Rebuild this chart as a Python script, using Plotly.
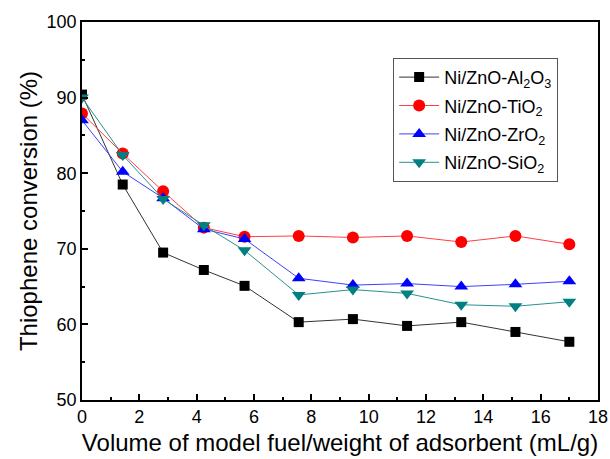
import plotly.graph_objects as go

x_vals = [0, 1.42, 2.83, 4.25, 5.67, 7.56, 9.45, 11.34, 13.23, 15.12, 17.0]
al2o3 = [90.4, 78.5, 69.5, 67.2, 65.1, 60.3, 60.7, 59.8, 60.3, 59.0, 57.7]
tio2 = [87.9, 82.6, 77.6, 72.8, 71.6, 71.7, 71.5, 71.7, 70.9, 71.7, 70.6]
zro2 = [87.0, 80.2, 76.7, 72.6, 71.3, 66.1, 65.2, 65.4, 65.0, 65.3, 65.7]
sio2 = [90.0, 82.4, 76.6, 73.1, 69.8, 63.9, 64.6, 64.1, 62.6, 62.4, 63.0]

series = [
    ("Ni/ZnO-Al<sub>2</sub>O<sub>3</sub>", al2o3, "#000000", "#333333", "square", 10),
    ("Ni/ZnO-TiO<sub>2</sub>", tio2, "#ff0000", "#ff4040", "circle", 12),
    ("Ni/ZnO-ZrO<sub>2</sub>", zro2, "#0000ff", "#4040ff", "triangle-up", 12),
    ("Ni/ZnO-SiO<sub>2</sub>", sio2, "#008080", "#2a9090", "triangle-down", 12),
]

fig = go.Figure()
for i, (name, ys, mc, lc, sym, sz) in enumerate(series):
    fig.add_trace(go.Scatter(
        x=x_vals, y=ys, name=name, mode="lines+markers",
        legendgroup=f"g{i}",
        line=dict(color=lc, width=1),
        marker=dict(symbol=sym, size=sz, color=mc, line=dict(width=0)),
    ))

axis_common = dict(
    showline=True, linecolor="black", linewidth=1.5, mirror=True,
    ticks="inside", ticklen=6, tickwidth=1.5, tickcolor="black",
    showgrid=False, zeroline=False, automargin=False,
    tickfont=dict(family="Liberation Sans, Arial", size=18, color="black"),
)

fig.update_layout(
    width=610, height=459,
    margin=dict(l=82, r=12, t=22, b=59),
    paper_bgcolor="white", plot_bgcolor="white",
    font=dict(family="Liberation Sans, Arial", color="black"),
    xaxis=dict(
        range=[0, 18], tickvals=list(range(0, 19, 2)),
        minor=dict(ticks="inside", dtick=1, ticklen=3, tickcolor="black", tickwidth=1.5),
        title=dict(text="Volume of model fuel/weight of adsorbent (mL/g)",
                   font=dict(size=24), standoff=8),
        **axis_common,
    ),
    yaxis=dict(
        range=[50, 100], tickvals=list(range(50, 101, 10)),
        minor=dict(ticks="inside", dtick=5, ticklen=3, tickcolor="black", tickwidth=1.5),
        title=dict(text="Thiophene conversion (%)", font=dict(size=24), standoff=2),
        **axis_common,
    ),
    legend=dict(
        x=0.603, y=0.905, xanchor="left", yanchor="top",
        bordercolor="#555555", borderwidth=1, bgcolor="white",
        font=dict(size=18, color="black"),
        itemwidth=40, tracegroupgap=2,
    ),
    showlegend=True,
)

fig.write_html("out.html")
